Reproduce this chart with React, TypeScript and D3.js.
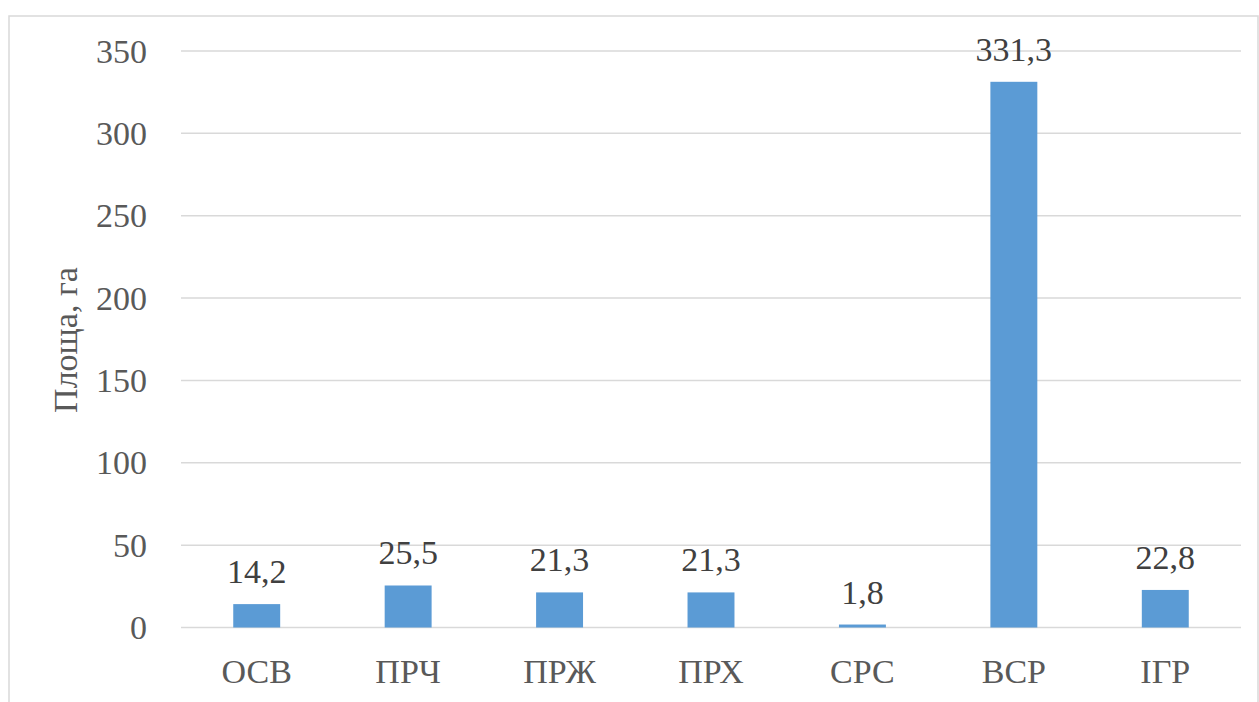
import React from "react";
import * as d3 from "d3";

const categories = ["ОСВ", "ПРЧ", "ПРЖ", "ПРХ", "СРС", "ВСР", "ІГР"];
const values = [14.2, 25.5, 21.3, 21.3, 1.8, 331.3, 22.8];
const yTicks = [0, 50, 100, 150, 200, 250, 300, 350];
const yLabel = "Площа, га";

const W = 1259;
const H = 702;
const FONT = "'Liberation Serif', 'Times New Roman', serif";
const TEXT = "#595959";

export default function App() {
  const x = d3.scaleBand<string>().domain(categories).range([181, 1241]).paddingInner(0.69).paddingOuter(0.345);
  const y = d3.scaleLinear().domain([0, 350]).range([627.5, 51]);
  const fmt = (v: number) => v.toFixed(1).replace(".", ",");
  return (
    <svg width={W} height={H} style={{ position: "absolute", left: 0, top: 0 }}>
      <rect x={0} y={0} width={W} height={H} fill="#fff" />
      <rect x={9} y={16} width={1249} height={700} fill="none" stroke="#d9d9d9" strokeWidth={1.5} />
      {yTicks.map((t) => (
        <g key={t}>
          <line x1={181} x2={1241} y1={y(t)} y2={y(t)} stroke="#d9d9d9" strokeWidth={1.5} />
          <text x={147} y={y(t)} dy="0.34em" textAnchor="end" fontFamily={FONT} fontSize={34} fill={TEXT}>
            {t}
          </text>
        </g>
      ))}
      {categories.map((c, i) => (
        <g key={c}>
          <rect x={x(c)!} y={y(values[i])} width={x.bandwidth()} height={y(0) - y(values[i])} fill="#5b9bd5" />
          <text x={x(c)! + x.bandwidth() / 2} y={y(values[i]) - 21} textAnchor="middle" fontFamily={FONT} fontSize={34} fill="#404040">
            {fmt(values[i])}
          </text>
          <text x={x(c)! + x.bandwidth() / 2} y={683} textAnchor="middle" fontFamily={FONT} fontSize={34} fill={TEXT}>
            {c}
          </text>
        </g>
      ))}
      <text transform="translate(77,340) rotate(-90)" textAnchor="middle" fontFamily={FONT} fontSize={34} fill={TEXT}>
        {yLabel}
      </text>
    </svg>
  );
}
